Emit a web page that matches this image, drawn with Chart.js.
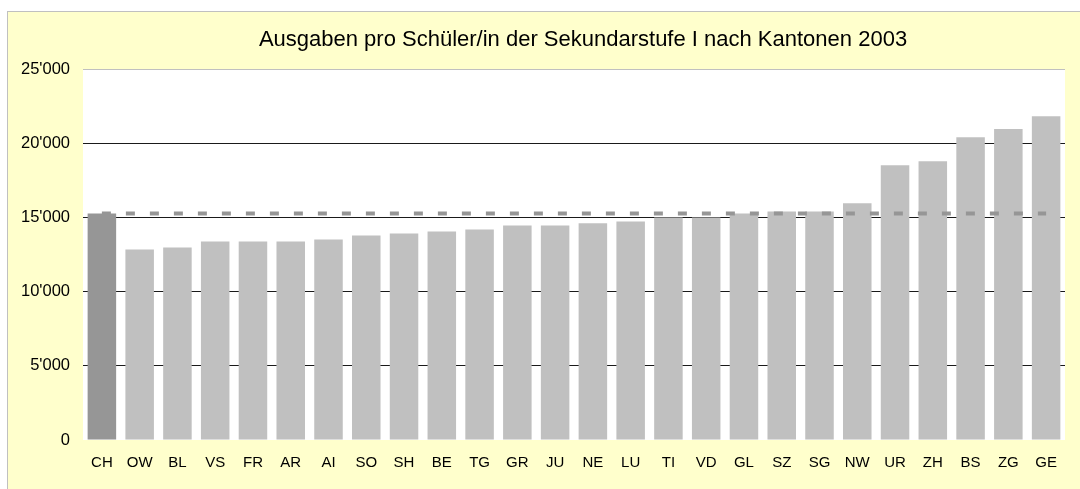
<!DOCTYPE html>
<html>
<head>
<meta charset="utf-8">
<script src="https://cdn.jsdelivr.net/npm/chart.js@4.4.1/dist/chart.umd.min.js"></script>
<style>
  html, body { margin: 0; padding: 0; background: #ffffff; width: 1080px; height: 489px; overflow: hidden; }
  #wrap { position: absolute; left: 7px; top: 11px; width: 1073px; height: 478px; box-sizing: border-box;
          background: #FFFFCC; border-top: 1px solid #c0c0c0; border-left: 1px solid #c0c0c0; }
  canvas { display: block; }
</style>
</head>
<body>
<div id="wrap"><canvas id="c" width="1072" height="477"></canvas></div>
<script>
const titleText = "Ausgaben pro Schüler/in der Sekundarstufe I nach Kantonen 2003";
const cantons = ["CH","OW","BL","VS","FR","AR","AI","SO","SH","BE","TG","GR","JU","NE","LU","TI","VD","GL","SZ","SG","NW","UR","ZH","BS","ZG","GE"];
const spending = [15270,12840,12970,13380,13380,13380,13510,13780,13920,14050,14190,14460,14460,14600,14730,15000,15000,15270,15400,15400,15950,18510,18780,20400,20950,21820];
const chLevel = 15270;
const referenceLine = [{x: "CH", y: chLevel}, {x: "GE", y: chLevel}];
const yTickValues = [0, 5000, 10000, 15000, 20000, 25000];
const yTickLabels = ["0", "5'000", "10'000", "15'000", "20'000", "25'000"];

const FONT = "'Liberation Sans', Arial, sans-serif";

const plotBg = {
  id: 'plotBg',
  beforeDraw(chart) {
    const {ctx, chartArea: a} = chart;
    ctx.save();
    ctx.fillStyle = '#ffffff';
    ctx.fillRect(a.left, a.top, a.right - a.left, a.bottom - a.top);
    ctx.restore();
  }
};
const titleDraw = {
  id: 'titleDraw',
  afterDraw(chart) {
    const ctx = chart.ctx;
    ctx.save();
    ctx.font = "22px " + FONT;
    ctx.fillStyle = '#000000';
    ctx.textAlign = 'center';
    ctx.textBaseline = 'alphabetic';
    ctx.fillText(titleText, 575, 34);
    ctx.restore();
  }
};

new Chart(document.getElementById('c'), {
  type: 'bar',
  data: {
    labels: cantons,
    datasets: [
      {
        type: 'line',
        data: referenceLine,
        borderColor: '#969696',
        borderWidth: 4,
        borderDash: [9, 15],
        borderCapStyle: 'butt',
        pointRadius: 0,
        fill: false,
        order: 0
      },
      {
        type: 'bar',
        data: spending,
        backgroundColor: ctx => cantons[ctx.index] === 'CH' ? '#969696' : '#C0C0C0',
        borderWidth: 0,
        barPercentage: 0.755,
        categoryPercentage: 1.0,
        order: 1
      }
    ]
  },
  options: {
    responsive: false,
    animation: false,
    devicePixelRatio: 1,
    layout: { padding: { top: 57, right: 15, left: 0, bottom: 0 } },
    plugins: { legend: { display: false }, title: { display: false }, tooltip: { enabled: false } },
    scales: {
      x: {
        grid: { display: false, drawTicks: false },
        border: { display: false },
        ticks: { color: '#000', font: { family: FONT, size: 15 }, padding: 14, maxRotation: 0, autoSkip: false },
        afterFit(scale) { scale.height = 49; }
      },
      y: {
        min: 0, max: 25000,
        afterBuildTicks(scale) { scale.ticks = yTickValues.map(v => ({value: v})); },
        grid: {
          drawTicks: false,
          lineWidth: 1,
          color: c => c.tick && c.tick.value === 0 ? 'rgba(0,0,0,0)' : (c.tick && c.tick.value === 25000 ? '#c0c0c0' : '#1a1a1a')
        },
        border: { display: false },
        ticks: {
          color: '#000',
          font: { family: FONT, size: 16.5 },
          padding: 13,
          callback: (v, i) => yTickLabels[yTickValues.indexOf(v)]
        },
        afterFit(scale) { scale.width = 75; }
      }
    }
  },
  plugins: [plotBg, titleDraw]
});
</script>
</body>
</html>
